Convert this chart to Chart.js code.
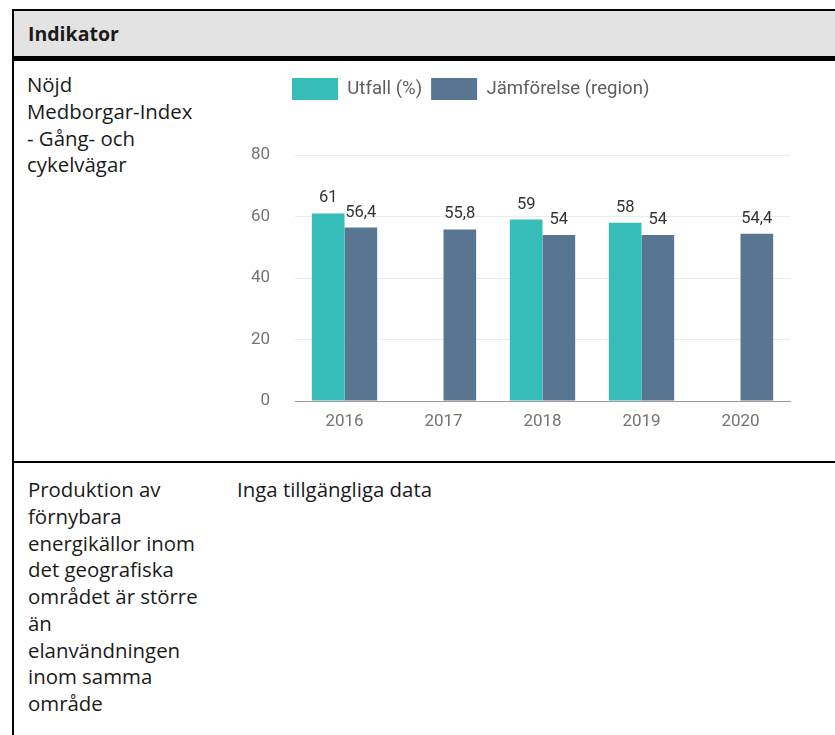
<!DOCTYPE html>
<html>
<head>
<meta charset="utf-8">
<script src="https://cdn.jsdelivr.net/npm/chart.js@4/dist/chart.umd.min.js"></script>
<style>
  body { margin: 0; width: 835px; height: 735px; overflow: hidden; position: relative; background: #fff;
         font-family: "Open Sans", sans-serif; font-size: 20.4px; line-height: 26.75px; color: #1a1a1a; }
  .abs { position: absolute; }
  .line { background: #000; }
  .txt { white-space: nowrap; }
</style>
</head>
<body>
  <!-- table frame -->
  <div class="abs line" style="left:12px; top:9px; width:823px; height:2px;"></div>
  <div class="abs" style="left:14px; top:11px; width:821px; height:45px; background:#e3e3e3;"></div>
  <div class="abs line" style="left:12px; top:56px; width:823px; height:5px;"></div>
  <div class="abs line" style="left:12px; top:9px; width:2px; height:726px;"></div>
  <div class="abs line" style="left:12px; top:461px; width:823px; height:2px;"></div>

  <div class="abs txt" style="left:28px; top:21px; font-weight:bold; font-size:19.5px;">Indikator</div>

  <div class="abs txt" style="left:27px; top:71px;">Nöjd<br>Medborgar-Index<br>- Gång- och<br>cykelvägar</div>

  <div class="abs" style="left:230px; top:69px; width:575px; height:372px;">
    <canvas id="chart" width="575" height="372"></canvas>
  </div>

  <div class="abs txt" style="left:28px; top:476px;">Produktion av<br>förnybara<br>energikällor inom<br>det geografiska<br>området är större<br>än<br>elanvändningen<br>inom samma<br>område</div>
  <div class="abs txt" style="left:237px; top:476px;">Inga tillgängliga data</div>

<script>
const years = ['2016', '2017', '2018', '2019', '2020'];
const utfall = [61, null, 59, 58, null];
const region = [56.4, 55.8, 54, 54, 54.4];
const yMin = 0, yMax = 80, yStep = 20;

const tealColor = '#37bdb9';
const slateColor = '#587591';

// legend sits left-aligned over the plot with extra room below it
const legendPlace = {
  id: 'legendPlace',
  beforeInit(chart) {
    const fit = chart.legend.fit;
    chart.legend.fit = function () {
      fit.call(this);
      this.height = 86;
    };
  },
  afterLayout(chart) {
    chart.legend.left = chart.chartArea.left - 12;
  }
};

const valueLabels = {
  id: 'valueLabels',
  afterDatasetsDraw(chart) {
    const ctx = chart.ctx;
    ctx.save();
    ctx.font = '16.5px Roboto';
    ctx.fillStyle = '#333';
    ctx.textAlign = 'center';
    ctx.textBaseline = 'alphabetic';
    chart.data.datasets.forEach((ds, i) => {
      chart.getDatasetMeta(i).data.forEach((bar, j) => {
        const v = ds.data[j];
        if (v == null) return;
        ctx.fillText(String(v).replace('.', ','), bar.x, bar.y - 11);
      });
    });
    ctx.restore();
  }
};

function draw() {
  new Chart(document.getElementById('chart'), {
    type: 'bar',
    data: {
      labels: years,
      datasets: [
        { label: 'Utfall (%)', data: utfall, backgroundColor: tealColor },
        { label: 'Jämförelse (region)', data: region, backgroundColor: slateColor }
      ]
    },
    options: {
      responsive: false,
      animation: false,
      categoryPercentage: 0.66,
      barPercentage: 1.0,
      layout: { padding: { right: 15 } },
      plugins: {
        legend: {
          position: 'top',
          align: 'start',
          labels: { boxWidth: 46, boxHeight: 22, padding: 9, color: '#5e5e5e', font: { family: 'Roboto', size: 18.6 } }
        },
        tooltip: { enabled: false }
      },
      scales: {
        x: {
          grid: { display: false, drawTicks: false },
          border: { display: true, color: '#9a9a9a', width: 1 },
          ticks: { color: '#747474', padding: 11, font: { family: 'Roboto', size: 17 } },
          afterFit(scale) { scale.height = 40; }
        },
        y: {
          min: yMin,
          max: yMax,
          ticks: { stepSize: yStep, color: '#747474', padding: 25, font: { family: 'Roboto', size: 17 } },
          grid: { color: '#ebebeb', drawTicks: false },
          border: { display: false },
          afterFit(scale) { scale.width = 65; }
        }
      }
    },
    plugins: [legendPlace, valueLabels]
  });
}

document.fonts.load('16px Roboto').then(draw, draw);
</script>
</body>
</html>
